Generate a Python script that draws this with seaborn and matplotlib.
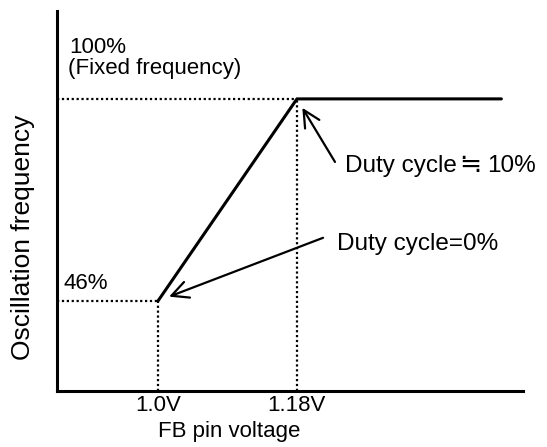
import matplotlib
matplotlib.use("Agg")
import matplotlib.pyplot as plt
import seaborn as sns

# FB pin voltage (V) vs oscillation frequency (%), schematic curve
fb_voltage = [1.0, 1.18, 1.445]
osc_freq = [46, 100, 100]

tick_values = [1.0, 1.18]
tick_labels = ["1.0V", "1.18V"]

low_level = 46
high_level = 100

sns.set_style("white")
plt.rcParams['font.family'] = ['Liberation Sans', 'DejaVu Sans']
plt.rcParams['font.size'] = 16
plt.rcParams['text.color'] = 'black'
plt.rcParams['axes.labelcolor'] = 'black'
plt.rcParams['xtick.color'] = 'black'

fig = plt.figure(figsize=(5.47, 4.47), dpi=100)
ax = fig.add_axes([0.1042, 0.1253, 0.8519, 0.8501])

sns.lineplot(x=fb_voltage, y=osc_freq, ax=ax, color="black", linewidth=2.2)

ax.set_xlim(0.869, 1.473)
ax.set_ylim(21.9, 123.5)

# dotted guide lines
dots = (0, (1, 1.2))
x0, y0 = ax.get_xlim()[0], ax.get_ylim()[0]
ax.hlines([low_level, high_level], x0, [fb_voltage[0], fb_voltage[1]],
          colors="black", linestyles=[dots], linewidth=1.6)
ax.vlines([fb_voltage[0], fb_voltage[1]], y0, [osc_freq[0], osc_freq[1]],
          colors="black", linestyles=[dots], linewidth=1.6)

# axes styling
for side in ["top", "right"]:
    ax.spines[side].set_visible(False)
for side in ["left", "bottom"]:
    ax.spines[side].set_linewidth(2.2)
    ax.spines[side].set_color("black")

ax.set_xticks(tick_values)
ax.set_xticklabels(tick_labels)
ax.set_yticks([])
ax.tick_params(axis="x", length=0, pad=3, labelsize=16)

ax.set_xlabel("FB pin voltage", fontsize=16)
ax.xaxis.set_label_coords(0.369, -0.080)
ax.set_ylabel("Oscillation frequency", fontsize=19)
ax.yaxis.set_label_coords(-0.047, 0.405)

# level labels
ax.text(0.0258, 0.889, "100%", transform=ax.transAxes, fontsize=16,
        ha="left", va="baseline")
ax.text(0.0236, 0.834, "(Fixed frequency)", transform=ax.transAxes,
        fontsize=16, ha="left", va="baseline")
ax.text(0.0129, 0.268, "46%", transform=ax.transAxes, fontsize=16,
        ha="left", va="baseline")

# arrows to the corner points
arrow = dict(arrowstyle="->", color="black", lw=1.6, mutation_scale=30,
             shrinkA=0, shrinkB=7.5)
ax.annotate("", xy=(fb_voltage[1], osc_freq[1]), xytext=(27.4, -45.4),
            textcoords="offset points", arrowprops=arrow)
ax.annotate("", xy=(fb_voltage[0], osc_freq[0]), xytext=(118.8, 45.4),
            textcoords="offset points", arrowprops=dict(arrow, shrinkB=8.5))

# "Duty cycle ≒ 10%" — the ≒ sign drawn a little wider, as in the original
top_pt = (fb_voltage[1], osc_freq[1])
ax.annotate("Duty cycle", xy=top_pt, xytext=(34.6, -52.6),
            textcoords="offset points", fontsize=17.5, ha="left", va="baseline")
ax.annotate("\u2252", xy=top_pt, xytext=(117.0, -52.6),
            textcoords="offset points", fontsize=19, ha="left", va="baseline",
            family=["DejaVu Sans"])
ax.annotate("10%", xy=top_pt, xytext=(136.8, -52.6),
            textcoords="offset points", fontsize=17.5, ha="left", va="baseline")

ax.annotate("Duty cycle=0%", xy=(fb_voltage[0], osc_freq[0]),
            xytext=(128.9, 36.7), textcoords="offset points",
            fontsize=17.5, ha="left", va="baseline")

fig.savefig("out.png", dpi=100)
